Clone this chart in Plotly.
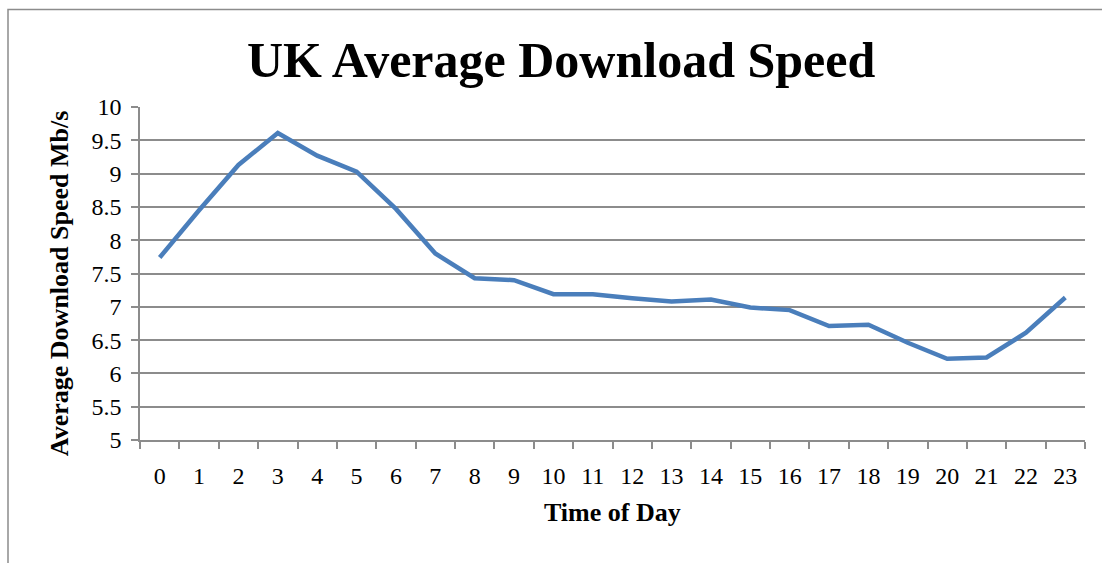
import plotly.graph_objects as go

hours = [str(h) for h in range(24)]
speed = [7.74, 8.45, 9.13, 9.61, 9.27, 9.03, 8.47, 7.80, 7.43, 7.40, 7.19, 7.19,
         7.13, 7.08, 7.11, 6.99, 6.95, 6.71, 6.73, 6.46, 6.22, 6.24, 6.61, 7.14]
y_ticks = [5, 5.5, 6, 6.5, 7, 7.5, 8, 8.5, 9, 9.5, 10]
y_labels = ["5", "5.5", "6", "6.5", "7", "7.5", "8", "8.5", "9", "9.5", "10"]

title_text = "UK Average Download Speed"
x_title = "Time of Day"
y_title = "Average Download Speed Mb/s"

serif = "Liberation Serif, Times New Roman, serif"
grid = "#8c8c8c"

fig = go.Figure()
fig.add_trace(go.Scatter(
    x=hours, y=speed, mode="lines",
    line=dict(color="#4A7EBB", width=4.5),
    showlegend=False, hoverinfo="x+y",
))

L, R, T, B = 140, 17, 106.7, 123
W, H = 1102, 563
pw, ph = W - L - R, H - T - B

def px_x(p):
    return (p - L) / pw

def px_y(p):
    return (H - B - p) / ph

fig.update_layout(
    width=W, height=H,
    margin=dict(l=L, r=R, t=T, b=B, autoexpand=False),
    paper_bgcolor="white", plot_bgcolor="white",
    font=dict(family=serif, size=24, color="black"),
    xaxis=dict(
        type="category", tickson="boundaries", ticks="outside", ticklen=7,
        tickcolor=grid, tickwidth=1.5, showline=True, linecolor=grid, linewidth=1.5,
        showgrid=False, tickfont=dict(family=serif, size=24, color="black"),
        ticklabelstandoff=13, range=[-0.5, 23.5], fixedrange=True,
    ),
    yaxis=dict(
        range=[5, 10], tickvals=y_ticks, ticktext=y_labels,
        ticks="outside", ticklen=7, tickcolor=grid, tickwidth=1.5,
        showline=True, linecolor=grid, linewidth=1.5,
        showgrid=True, gridcolor=grid, gridwidth=1.5, zeroline=False,
        tickfont=dict(family=serif, size=24, color="black"),
        ticklabelstandoff=5, fixedrange=True,
    ),
    shapes=[dict(type="rect", xref="paper", yref="paper",
                 x0=px_x(8), x1=px_x(1120), y0=px_y(580), y1=px_y(9),
                 line=dict(color="#8c8c8c", width=1.5), fillcolor="rgba(0,0,0,0)",
                 layer="below")],
    annotations=[
        dict(text="<b>" + title_text + "</b>", xref="paper", yref="paper",
             x=px_x(561), y=px_y(60), showarrow=False, xanchor="center", yanchor="middle",
             font=dict(family=serif, size=50, color="black")),
        dict(text="<b>" + x_title + "</b>", xref="paper", yref="paper",
             x=px_x(612), y=px_y(513), showarrow=False, xanchor="center", yanchor="middle",
             font=dict(family=serif, size=26, color="black")),
        dict(text="<b>" + y_title + "</b>", xref="paper", yref="paper",
             x=px_x(59), y=px_y(284), showarrow=False, xanchor="center", yanchor="middle",
             textangle=-90, font=dict(family=serif, size=26, color="black")),
    ],
)

fig.write_html("out.html")
